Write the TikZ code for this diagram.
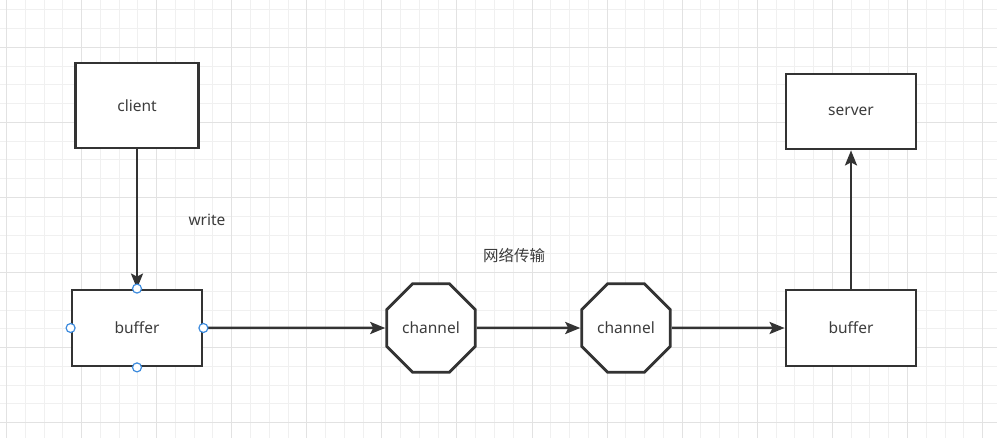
\documentclass[tikz,border=0pt]{standalone}
\usepackage{fontspec}
\setmainfont{Noto Sans}
\newfontfamily\cjk{Noto Sans CJK SC}
\usetikzlibrary{shapes.geometric,arrows.meta}
\newcommand{\pas}{18.77}
\newcommand{\gx}{6.5}
\newcommand{\gy}{9.8}
\definecolor{gristrait}{RGB}{51,51,51}
\definecolor{gristexte}{RGB}{60,60,60}
\definecolor{bleupoignee}{RGB}{62,140,222}
\definecolor{grillefine}{RGB}{240,240,240}
\definecolor{grillegrosse}{RGB}{226,226,226}
\tikzstyle{fine}=[grillefine, line width=1pt]
\tikzstyle{grosse}=[grillegrosse, line width=1pt]
\tikzstyle{boite}=[draw=gristrait, line width=2.8pt, fill=white, text=gristexte, font=\fontsize{15.5}{18}\selectfont, inner sep=0]
\tikzstyle{canal}=[boite, regular polygon, regular polygon sides=8, minimum size=96pt]
\tikzstyle{fleche}=[draw=gristrait, line width=2.5pt, -{Stealth[length=15pt,width=12pt,inset=3pt]}]
\tikzstyle{poignee}=[circle, draw=bleupoignee, fill=white, line width=1.2pt, minimum size=9pt, inner sep=0]
\tikzstyle{etiquette}=[text=gristexte, font=\fontsize{15.5}{18}\selectfont, inner sep=0]

\begin{document}
\begin{tikzpicture}[x=1pt,y=-1pt]
\useasboundingbox (0,0) rectangle (997,438);
\fill[white] (0,0) rectangle (997,438);

%grille
\foreach \I in {0,...,53}
\draw[fine] (\gx+\I*\pas,0) -- ++(0,438);
\foreach \J in {0,...,23}
\draw[fine] (0,\gy+\J*\pas) -- ++(997,0);
\foreach \I in {0,...,13}
\draw[grosse] (\gx+4*\I*\pas,0) -- ++(0,438);
\foreach \J in {0,...,5}
\draw[grosse] (0,\gy+2*\pas+4*\J*\pas) -- ++(997,0);

%boites
\node[boite, minimum width=123pt, minimum height=85pt] (client) at (137,105.5) {client};
\node[boite, minimum width=130pt, minimum height=76pt] (buf1) at (137,328) {buffer};
\node[canal] (can1) at (431,328) {channel};
\node[canal] (can2) at (626,328) {channel};
\node[boite, minimum width=130pt, minimum height=76pt] (buf2) at (851,328) {buffer};
\node[boite, minimum width=130pt, minimum height=75pt] (server) at (851,111.5) {server};

%fleches
\draw[fleche] (client) -- (buf1);
\draw[fleche] (buf1) -- (can1);
\draw[fleche] (can1) -- (can2);
\draw[fleche] (can2) -- (buf2);
\draw[fleche] (buf2) -- (server);

\node[etiquette] (write) at (207,220) {write};
\node[etiquette] (reseau) at (514,256) {\cjk 网络传输};

%poignees
\foreach \P in {north,south,east,west}
\node[poignee] (h\P) at (buf1.\P) {};
\end{tikzpicture}
\end{document}
